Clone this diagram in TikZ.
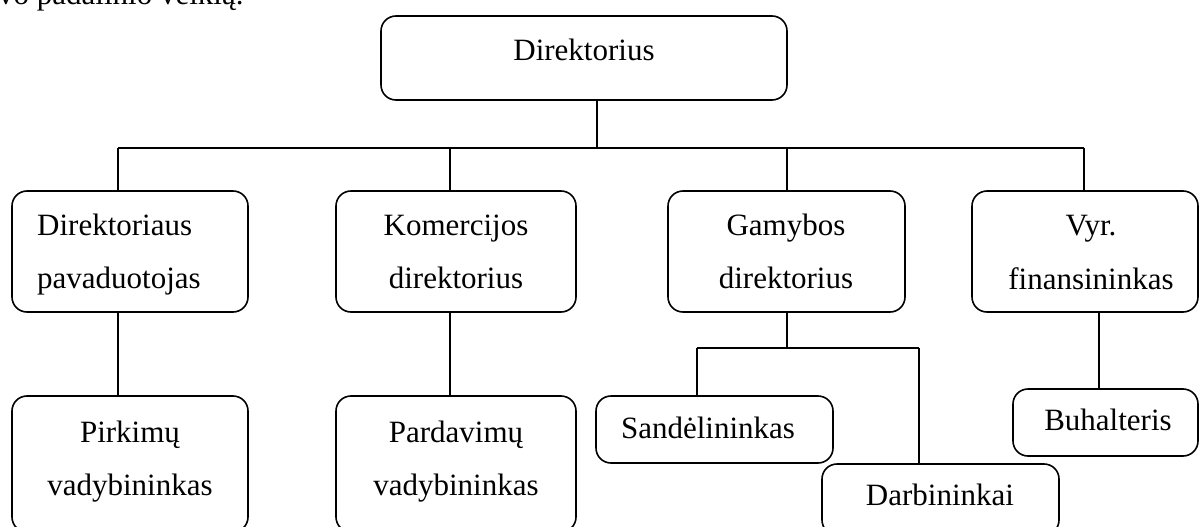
\documentclass[tikz,border=0pt]{standalone}
\usepackage{fontspec}
\setmainfont{Liberation Serif}
\begin{document}
\begin{tikzpicture}[x=1pt,y=-1pt,
  box/.style={draw, line width=1.6pt, rounded corners=15pt, inner sep=0pt},
  wire/.style={draw, line width=1.6pt},
  txt/.style={inner sep=0pt, anchor=base, font=\fontsize{31}{36}\selectfont},
  ltxt/.style={txt, anchor=base west}]
\useasboundingbox (0,0) rectangle (1200,527);
\clip (0,0) rectangle (1200,527);

% tail of the preceding paragraph
\node[ltxt] (para) at (-2,5) {vo padalinio veiklą.};

% boxes
\node[box, minimum width=406pt, minimum height=84pt]  (dir) at (584,58) {};
\node[box, minimum width=236pt, minimum height=121pt] (b1)  at (130,251.5) {};
\node[box, minimum width=240pt, minimum height=121pt] (b2)  at (456,251.5) {};
\node[box, minimum width=237pt, minimum height=121pt] (b3)  at (786.5,251.5) {};
\node[box, minimum width=226pt, minimum height=121pt] (b4)  at (1085,251.5) {};
\node[box, minimum width=236pt, minimum height=136pt] (p1)  at (130,464) {};
\node[box, minimum width=240pt, minimum height=136pt] (p2)  at (456,464) {};
\node[box, minimum width=237pt, minimum height=67pt]  (s)   at (714.5,429.5) {};
\node[box, minimum width=237pt, minimum height=71pt]  (d)   at (940.5,499.5) {};
\node[box, minimum width=185pt, minimum height=67pt]  (buh) at (1105.5,422.5) {};

% labels
\node[txt]  (tdir) at (584,60)  {Direktorius};
\node[ltxt] (t1a)  at (37,235)  {Direktoriaus};
\node[ltxt] (t1b)  at (37,288)  {pavaduotojas};
\node[txt]  (t2a)  at (456,235) {Komercijos};
\node[txt]  (t2b)  at (456,288) {direktorius};
\node[txt]  (t3a)  at (786,235) {Gamybos};
\node[txt]  (t3b)  at (786,288) {direktorius};
\node[txt]  (t4a)  at (1091,235) {Vyr.};
\node[txt]  (t4b)  at (1091,289) {finansininkas};
\node[txt]  (tp1a) at (130,442) {Pirkimų};
\node[txt]  (tp1b) at (130,495) {vadybininkas};
\node[txt]  (tp2a) at (456,442) {Pardavimų};
\node[txt]  (tp2b) at (456,495) {vadybininkas};
\node[txt]  (ts)   at (708,438) {Sandėlininkas};
\node[txt]  (td)   at (940,505) {Darbininkai};
\node[txt]  (tb)   at (1108,430) {Buhalteris};

% junction points
\coordinate (top) at (597,148);
\coordinate (j1) at (118,148);
\coordinate (j2) at (450,148);
\coordinate (j3) at (787,148);
\coordinate (j4) at (1084,148);
\coordinate (g)  at (787,348);
\coordinate (gl) at (697,348);
\coordinate (gr) at (919,348);
\coordinate (fx) at (1099,348);

% connectors
\draw[wire] (dir.south -| top) -- (top);
\draw[wire] (j1) -- (j4);
\draw[wire] (j1) -- (b1.north -| j1);
\draw[wire] (j2) -- (b2.north -| j2);
\draw[wire] (j3) -- (b3.north -| j3);
\draw[wire] (j4) -- (b4.north -| j4);
\draw[wire] (b1.south -| j1) -- (p1.north -| j1);
\draw[wire] (b2.south -| j2) -- (p2.north -| j2);
\draw[wire] (b3.south -| g) -- (g);
\draw[wire] (gl) -- (gr);
\draw[wire] (gl) -- (s.north -| gl);
\draw[wire] (gr) -- (d.north -| gr);
\draw[wire] (b4.south -| fx) -- (buh.north -| fx);
\end{tikzpicture}
\end{document}
